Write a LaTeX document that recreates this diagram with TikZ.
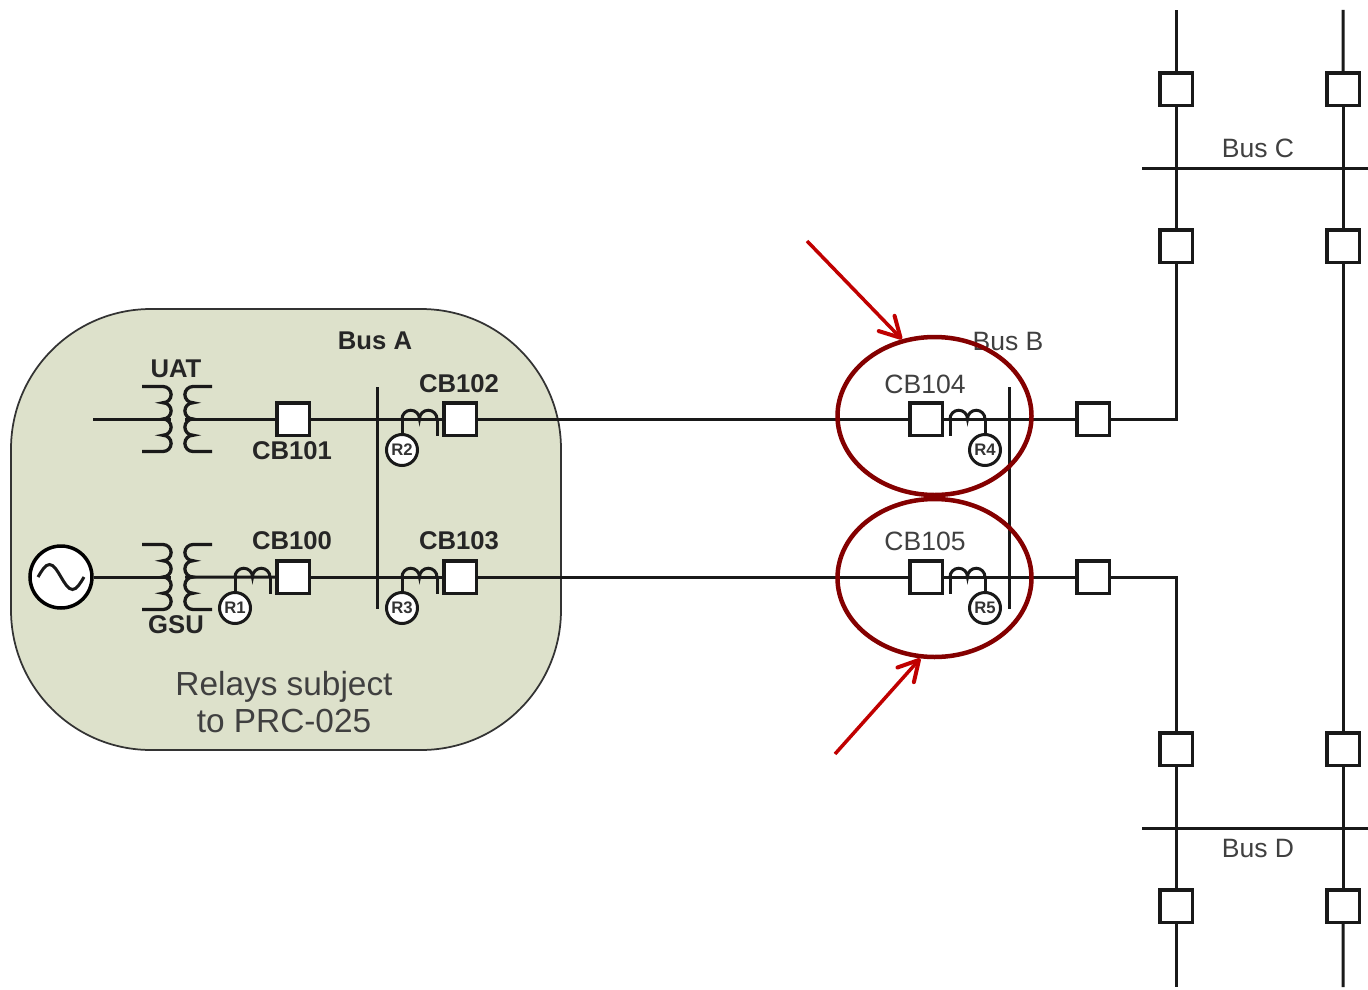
\documentclass[tikz,border=0pt]{standalone}
\usepackage{fontspec}
\setmainfont{Liberation Sans}
\usetikzlibrary{positioning,shapes.geometric,arrows.meta,calc}
\definecolor{zonefill}{RGB}{221,225,203}
\definecolor{ringred}{RGB}{132,0,0}
\definecolor{arrowred}{RGB}{192,0,0}
\tikzstyle{wire}=[line width=0.06cm, black!90]
\tikzstyle{breaker}=[rectangle, draw=black!90, line width=0.07cm, fill=white, minimum size=0.65cm, inner sep=0pt]
\tikzstyle{relay}=[circle, draw=black!90, line width=0.06cm, fill=white, minimum size=0.62cm, inner sep=0pt, font=\fontsize{9.5}{10}\selectfont\bfseries, text=black!80]
\tikzstyle{zone}=[rectangle, draw=black!80, line width=0.035cm, fill=zonefill, rounded corners=2.8cm, minimum width=11cm, minimum height=8.82cm]
\tikzstyle{ring}=[ellipse, draw=ringred, line width=0.09cm, minimum width=3.88cm, minimum height=3.16cm, inner sep=0pt]
\tikzstyle{myarrow}=[-{Straight Barb[length=0.4cm,width=0.44cm,round,line width=0.08cm]}, line width=0.07cm, arrowred]
\tikzstyle{darklabel}=[font=\fontsize{14.6}{16}\selectfont\bfseries, text=black!85, inner sep=0pt]
\tikzstyle{greylabel}=[font=\fontsize{15.1}{16}\selectfont, text=black!75, inner sep=0pt]
\tikzset{
  pics/xfmr/.style={code={
    \draw[wire, line width=0.065cm] (-0.72,0.65) -- (-0.30,0.65) arc (90:-90:0.1625) arc (90:-90:0.1625) arc (90:-90:0.1625) arc (90:-90:0.1625) -- (-0.72,-0.65);
    \draw[wire, line width=0.065cm] (0.68,0.65) -- (0.30,0.65) arc (90:270:0.1625) arc (90:270:0.1625) arc (90:270:0.1625) arc (90:270:0.1625) -- (0.68,-0.65);
    \coordinate (-pri) at (-0.14,0);
    \coordinate (-sec) at (0.14,0);
  }},
  pics/ct/.style={code={
    \draw[wire] (0,0) arc (180:0:0.175) arc (180:0:0.175);
    \coordinate (-l) at (0,0);
    \coordinate (-r) at (0.7,0);
    \coordinate (-lfoot) at (0,-0.34);
    \coordinate (-rfoot) at (0.7,-0.34);
  }}
}

\begin{document}
\begin{tikzpicture}[node distance=3.16cm]

	\useasboundingbox (0,0) rectangle (27.36,-19.8);

	% Shaded zone
	\node (relay_zone) [zone] at (5.72,-10.59) {};
	\node (zone_text) [greylabel, align=center, font=\fontsize{19}{21}\selectfont] at (5.68,-14.04) {Relays subject\\to PRC-025};

	% Generator and transformers
	\node (gen) [circle, draw=black, line width=0.07cm, fill=white, minimum size=1.24cm] at (1.22,-11.54) {};
	\draw[wire] ($(gen.center)+(-0.46,0)$) sin +(0.23,0.25) cos +(0.23,-0.25) sin +(0.23,-0.25) cos +(0.23,0.25);
	\pic (uat) at (3.56,-8.38) {xfmr};
	\pic (gsu) at (3.56,-11.54) {xfmr};
	\coordinate (uat_in) at (1.86,-8.38);

	% Breakers
	\node (cb101) [breaker] at (5.86,-8.38) {};
	\node (cb102) [breaker, right of=cb101, node distance=3.34cm] {};
	\node (cb100) [breaker, below of=cb101] {};
	\node (cb103) [breaker, below of=cb102] {};
	\node (cb104) [breaker] at (18.52,-8.38) {};
	\node (cb105) [breaker, below of=cb104] {};
	\node (cb_b1) [breaker, right of=cb104, node distance=3.34cm] {};
	\node (cb_b2) [breaker, below of=cb_b1] {};

	\node (cb_c1) [breaker] at (23.52,-1.78) {};
	\node (cb_c2) [breaker, below of=cb_c1, node distance=3.14cm] {};
	\node (cb_c3) [breaker, right of=cb_c1, node distance=3.34cm] {};
	\node (cb_c4) [breaker, below of=cb_c3, node distance=3.14cm] {};
	\node (cb_d1) [breaker] at (23.52,-14.98) {};
	\node (cb_d2) [breaker, below of=cb_d1, node distance=3.14cm] {};
	\node (cb_d3) [breaker, right of=cb_d1, node distance=3.34cm] {};
	\node (cb_d4) [breaker, below of=cb_d3, node distance=3.14cm] {};

	% Free ends of the lines
	\coordinate (bus_a_top) at (7.54,-7.74);
	\coordinate (bus_a_bot) at (7.54,-12.18);
	\coordinate (bus_b_top) at (20.18,-7.74);
	\coordinate (bus_b_bot) at (20.18,-12.18);
	\coordinate (bus_c_l) at (22.84,-3.36);
	\coordinate (bus_c_r) at (27.36,-3.36);
	\coordinate (bus_d_l) at (22.84,-16.56);
	\coordinate (bus_d_r) at (27.36,-16.56);
	\coordinate (top_l) at (23.52,-0.2);
	\coordinate (top_r) at (26.86,-0.2);
	\coordinate (end_l) at (23.52,-19.74);
	\coordinate (end_r) at (26.86,-19.74);

	% Lines
	\draw[wire] (uat_in) -- (uat-pri);
	\draw[wire] (uat-sec) -- (cb101);
	\draw[wire] (gen) -- (gsu-pri);
	\draw[wire] (gsu-sec) -- (cb100);
	\draw[wire] (cb101) -- (cb102);
	\draw[wire] (cb100) -- (cb103);
	\draw[wire] (cb102) -- (cb104);
	\draw[wire] (cb103) -- (cb105);
	\draw[wire] (cb104) -- (cb_b1);
	\draw[wire] (cb105) -- (cb_b2);
	\draw[wire] (bus_a_top) -- (bus_a_bot);
	\draw[wire] (bus_b_top) -- (bus_b_bot);
	\draw[wire] (bus_c_l) -- (bus_c_r);
	\draw[wire] (bus_d_l) -- (bus_d_r);

	\draw[wire] (cb_b1) -| (cb_c2);
	\draw[wire] (cb_b2) -| (cb_d1);
	\draw[wire] (cb_c2) -- (cb_c1);
	\draw[wire] (cb_c1) -- (top_l);
	\draw[wire] (cb_d1) -- (cb_d2);
	\draw[wire] (cb_d2) -- (end_l);
	\draw[wire] (top_r) -- (cb_c3);
	\draw[wire] (cb_c3) -- (cb_c4);
	\draw[wire] (cb_c4) -- (cb_d3);
	\draw[wire] (cb_d3) -- (cb_d4);
	\draw[wire] (cb_d4) -- (end_r);

	% Current transformers and relays
	\pic (ct1) at (4.70,-11.54) {ct};
	\pic (ct2) at (8.04,-8.38) {ct};
	\pic (ct3) at (8.04,-11.54) {ct};
	\pic (ct4) at (19.00,-8.38) {ct};
	\pic (ct5) at (19.00,-11.54) {ct};

	\node (r1) [relay, below of=ct1-l, node distance=0.62cm] {R1};
	\node (r2) [relay, below of=ct2-l, node distance=0.62cm] {R2};
	\node (r3) [relay, below of=ct3-l, node distance=0.62cm] {R3};
	\node (r4) [relay, below of=ct4-r, node distance=0.62cm] {R4};
	\node (r5) [relay, below of=ct5-r, node distance=0.62cm] {R5};

	\draw[wire] (ct1-l) -- (r1);
	\draw[wire] (ct2-l) -- (r2);
	\draw[wire] (ct3-l) -- (r3);
	\draw[wire] (ct4-r) -- (r4);
	\draw[wire] (ct5-r) -- (r5);
	\draw[wire] (ct1-r) -- (ct1-rfoot);
	\draw[wire] (ct2-r) -- (ct2-rfoot);
	\draw[wire] (ct3-r) -- (ct3-rfoot);
	\draw[wire] (ct4-l) -- (ct4-lfoot);
	\draw[wire] (ct5-l) -- (ct5-lfoot);

	% Labels
	\node (lbl_uat) [darklabel] at (3.52,-7.38) {UAT};
	\node (lbl_gsu) [darklabel] at (3.52,-12.5) {GSU};
	\node (lbl_cb100) [darklabel] at (5.84,-10.82) {CB100};
	\node (lbl_cb101) [darklabel] at (5.84,-9.02) {CB101};
	\node (lbl_cb102) [darklabel] at (9.18,-7.68) {CB102};
	\node (lbl_cb103) [darklabel] at (9.18,-10.82) {CB103};
	\node (lbl_bus_a) [darklabel] at (7.50,-6.82) {Bus A};
	\node (lbl_cb104) [greylabel] at (18.50,-7.68) {CB104};
	\node (lbl_cb105) [greylabel] at (18.50,-10.82) {CB105};
	\node (lbl_bus_b) [greylabel] at (20.16,-6.82) {Bus B};
	\node (lbl_bus_c) [greylabel] at (25.16,-2.96) {Bus C};
	\node (lbl_bus_d) [greylabel] at (25.16,-16.96) {Bus D};

	% Rings and arrows
	\node (ring_top) [ring] at (18.69,-8.32) {};
	\node (ring_bot) [ring] at (18.69,-11.56) {};
	\coordinate (arrow_top) at (16.14,-4.82);
	\coordinate (arrow_bot) at (16.70,-15.08);
	\draw[myarrow] (arrow_top) -- (ring_top.113);
	\draw[myarrow] (arrow_bot) -- (ring_bot.260);

\end{tikzpicture}
\end{document}
